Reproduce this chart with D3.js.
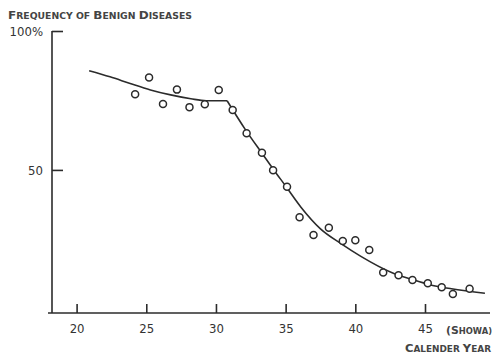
<!DOCTYPE html>
<html>
<head>
<meta charset="utf-8">
<script src="https://cdn.jsdelivr.net/npm/d3@7"></script>
<style>
  body { margin: 0; background: #fff; }
  svg { display: block; }
</style>
</head>
<body>
<div id="chart"></div>
<script>
// observed frequency of benign diseases per calendar year (Showa)
const years = [24.2, 25.2, 26.2, 27.2, 28.1, 29.2, 30.2, 31.2, 32.2, 33.3, 34.1, 35.1, 36.0,
  37.0, 38.1, 39.1, 40.0, 41.0, 42.0, 43.1, 44.1, 45.2, 46.2, 47.0, 48.2];
const freqs = [77.2, 83.3, 73.7, 78.9, 72.6, 73.6, 78.8, 71.6, 63.2, 56.2, 49.9, 43.9, 33.0,
  26.6, 29.2, 24.4, 24.7, 21.2, 13.1, 12.1, 10.4, 9.2, 7.8, 5.3, 7.2];

// fitted curve, drawn in two pieces so the bend at Showa 31 stays sharp
const fitUpperYears = [20.9, 22.4, 23.9, 25.3, 26.75, 28.2, 29.3, 30.8];
const fitUpperValues = [85.7, 83.5, 81.0, 78.8, 77.0, 75.6, 74.9, 74.9];
const fitLowerYears = [30.8, 32.1, 33.3, 34.15, 35.0, 36.1, 37.5, 39.0, 40.4, 42.6, 44.0, 45.4, 46.9, 49.3];
const fitLowerValues = [74.9, 64.6, 56.0, 50.0, 44.2, 36.6, 28.8, 23.4, 18.9, 13.1, 10.7, 8.6, 7.2, 5.6];

const xTicks = [20, 25, 30, 35, 40, 45];
const yTicks = [50, 100];

const width = 493;
const height = 354;
const axisX = 52;
const axisY = 313;
const ink = '#2b2b2b';
const fontFamily = '"DejaVu Sans Condensed", "DejaVu Sans", sans-serif';

const svg = d3.select('#chart').append('svg')
  .attr('width', width)
  .attr('height', height);

const x = d3.scaleLinear().domain([20, 45]).range([76.6, 425]);
const y = d3.scaleLinear().domain([-1.5, 100]).range([axisY, 31]);

// axis lines
svg.append('line')
  .attr('x1', axisX).attr('x2', axisX)
  .attr('y1', 31).attr('y2', axisY)
  .attr('stroke', ink).attr('stroke-width', 1.6);
svg.append('line')
  .attr('x1', 48).attr('x2', 490)
  .attr('y1', axisY).attr('y2', axisY)
  .attr('stroke', ink).attr('stroke-width', 1.6);

// x axis ticks point up, labels below
const xAxis = svg.append('g')
  .attr('transform', `translate(0,${axisY})`)
  .call(d3.axisBottom(x).tickValues(xTicks).tickSize(-9).tickPadding(11).tickFormat(d3.format('d')))
  .call((g) => g.select('.domain').remove());
xAxis.selectAll('line').attr('stroke', ink).attr('stroke-width', 1.6);
xAxis.selectAll('text')
  .attr('fill', '#333')
  .style('font-family', fontFamily)
  .style('font-size', '13px');

// y axis ticks point right
const yAxis = svg.append('g')
  .attr('transform', `translate(${axisX},0)`)
  .call(d3.axisLeft(y).tickValues(yTicks).tickSize(-11).tickPadding(9)
    .tickFormat((d) => (d === 100 ? '100%' : d)))
  .call((g) => g.select('.domain').remove());
yAxis.selectAll('line').attr('stroke', ink).attr('stroke-width', 1.6);
yAxis.selectAll('text')
  .attr('fill', '#333')
  .style('font-family', fontFamily)
  .style('font-size', '13px');

// fitted curve
const line = d3.line()
  .x((d) => x(d[0]))
  .y((d) => y(d[1]))
  .curve(d3.curveMonotoneX);
[[fitUpperYears, fitUpperValues], [fitLowerYears, fitLowerValues]].forEach(([xs, vs]) => {
  svg.append('path')
    .datum(xs.map((v, i) => [v, vs[i]]))
    .attr('d', line)
    .attr('fill', 'none')
    .attr('stroke', ink)
    .attr('stroke-width', 1.6);
});

// observed points
svg.append('g')
  .selectAll('circle')
  .data(years.map((v, i) => [v, freqs[i]]))
  .join('circle')
  .attr('cx', (d) => x(d[0]))
  .attr('cy', (d) => y(d[1]))
  .attr('r', 3.5)
  .attr('fill', '#fff')
  .attr('stroke', ink)
  .attr('stroke-width', 1.5);

// small caps style text: big first letters, smaller rest
function smallCaps(parts, tx, ty, len) {
  const t = svg.append('text')
    .attr('x', tx)
    .attr('y', ty)
    .attr('fill', '#444')
    .style('font-family', fontFamily)
    .style('font-weight', 'bold');
  parts.forEach(([s, big]) => {
    t.append('tspan')
      .style('font-size', big ? '11px' : '8.5px')
      .text(s);
  });
  if (len) t.attr('textLength', len).attr('lengthAdjust', 'spacingAndGlyphs');
  return t;
}

smallCaps([['F', 1], ['REQUENCY ', 0], ['OF ', 0], ['B', 1], ['ENIGN ', 0], ['D', 1], ['ISEASES', 0]], 8, 19, 184);
smallCaps([['(S', 1], ['HOWA)', 0]], 446, 334, 46);
smallCaps([['C', 1], ['ALENDER ', 0], ['Y', 1], ['EAR', 0]], 405, 352, 86);
</script>
</body>
</html>
